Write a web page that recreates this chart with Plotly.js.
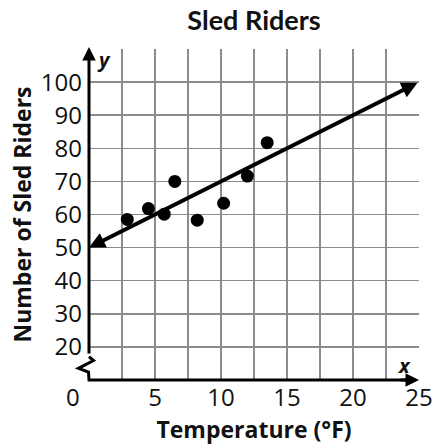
<!DOCTYPE html>
<html>
<head>
<meta charset="utf-8">
<script src="https://cdn.plot.ly/plotly-3.0.1.min.js"></script>
<style>html,body{margin:0;padding:0;background:#fff;}#chart{width:446px;height:447px;}</style>
</head>
<body>
<div id="chart"></div>
<script>
// Data
const temperature = [2.9, 4.5, 5.7, 6.5, 8.2, 10.2, 12.0, 13.5];
const riders      = [58.5, 61.8, 60.1, 70, 58.3, 63.4, 71.6, 81.7];
// Line of fit (drawn with arrows at both ends)
const fitX = [0, 25];
const fitY = [50, 100];
// Ticks / grid
const xGrid = [2.5, 5, 7.5, 10, 12.5, 15, 17.5, 20, 22.5, 25];
const xLabels = ['', '5', '', '10', '', '15', '', '20', '', '25'];
const yGrid = [20, 30, 40, 50, 60, 70, 80, 90, 100, 110];
const yLabels = ['20', '30', '40', '50', '60', '70', '80', '90', '100', ''];

const tickFont = {family: 'Open Sans, sans-serif', size: 24, color: '#111'};
const boldFont = {family: 'Open Sans, sans-serif', size: 23, color: '#111'};

const traces = [{
  x: temperature, y: riders, type: 'scatter', mode: 'markers',
  marker: {color: '#000', size: 13}, hoverinfo: 'skip', cliponaxis: false
}];

const layout = {
  width: 446, height: 447,
  margin: {l: 89, r: 27, t: 49, b: 67},
  paper_bgcolor: '#fff', plot_bgcolor: '#fff',
  showlegend: false,
  title: {text: '<b>Sled Riders</b>', font: {family: 'Lato, sans-serif', size: 27, color: '#111'},
          xref: 'paper', x: 0.5, xanchor: 'center', yref: 'container', y: 0.955, yanchor: 'middle'},
  xaxis: {
    range: [0, 25], tickmode: 'array', tickvals: xGrid, ticktext: xLabels,
    showgrid: true, gridcolor: '#8c8c8c', gridwidth: 1.5, zeroline: false,
    showline: false, ticks: '', tickfont: tickFont, ticklabelstandoff: 1, fixedrange: true,
    title: {text: '<b>Temperature (°F)</b>', font: boldFont, standoff: 0}
  },
  yaxis: {
    range: [10, 110], tickmode: 'array', tickvals: yGrid, ticktext: yLabels,
    showgrid: true, gridcolor: '#8c8c8c', gridwidth: 1.5, zeroline: false,
    showline: false, ticks: '', tickfont: tickFont, ticklabelstandoff: 6, fixedrange: true,
    title: {text: '<b>Number of Sled Riders</b>', font: boldFont, standoff: 2}
  },
  shapes: [
    // axis break zigzag on the y axis
    {type: 'path', xref: 'paper', yref: 'paper',
     path: 'M0,0.0704 L0.0136,0.0589 L-0.0318,0.0353 L-0.0015,0.0242 L0,0 L0.985,0',
     line: {color: '#000', width: 3}}
  ],
  annotations: [
    // line of fit with arrows at both ends
    {x: fitX[0], y: fitY[0], ax: fitX[1], ay: fitY[1], xref: 'x', yref: 'y', axref: 'x', ayref: 'y',
     showarrow: true, arrowside: 'end+start', arrowhead: 2, startarrowhead: 2,
     arrowsize: 0.8, startarrowsize: 0.8, arrowwidth: 4, arrowcolor: '#000', text: '', standoff: 0, startstandoff: 0},
    // y axis arrow
    {x: 0, y: 1.006, xref: 'paper', yref: 'paper', ax: 0, ay: 308,
     showarrow: true, arrowhead: 2, arrowsize: 0.9, arrowwidth: 3, arrowcolor: '#000', text: '', standoff: 0},
    // x axis arrow
    {x: 1.0, y: 0, xref: 'paper', yref: 'paper', ax: -20, ay: 0,
     showarrow: true, arrowhead: 2, arrowsize: 0.9, arrowwidth: 3, arrowcolor: '#000', text: '', standoff: 0},
    {x: 1.14, y: 106.7, xref: 'x', yref: 'y', text: '<b><i>y</i></b>', showarrow: false,
     font: {family: 'Open Sans, sans-serif', size: 20, color: '#111'}},
    {x: 23.9, y: 14.3, xref: 'x', yref: 'y', text: '<b><i>x</i></b>', showarrow: false,
     font: {family: 'Open Sans, sans-serif', size: 20, color: '#111'}},
    {x: -0.0485, y: -0.051, xref: 'paper', yref: 'paper', xanchor: 'center', yanchor: 'middle',
     text: '0', showarrow: false, font: tickFont}
  ]
};

Plotly.newPlot('chart', traces, layout, {displayModeBar: false, staticPlot: true});
</script>
</body>
</html>
